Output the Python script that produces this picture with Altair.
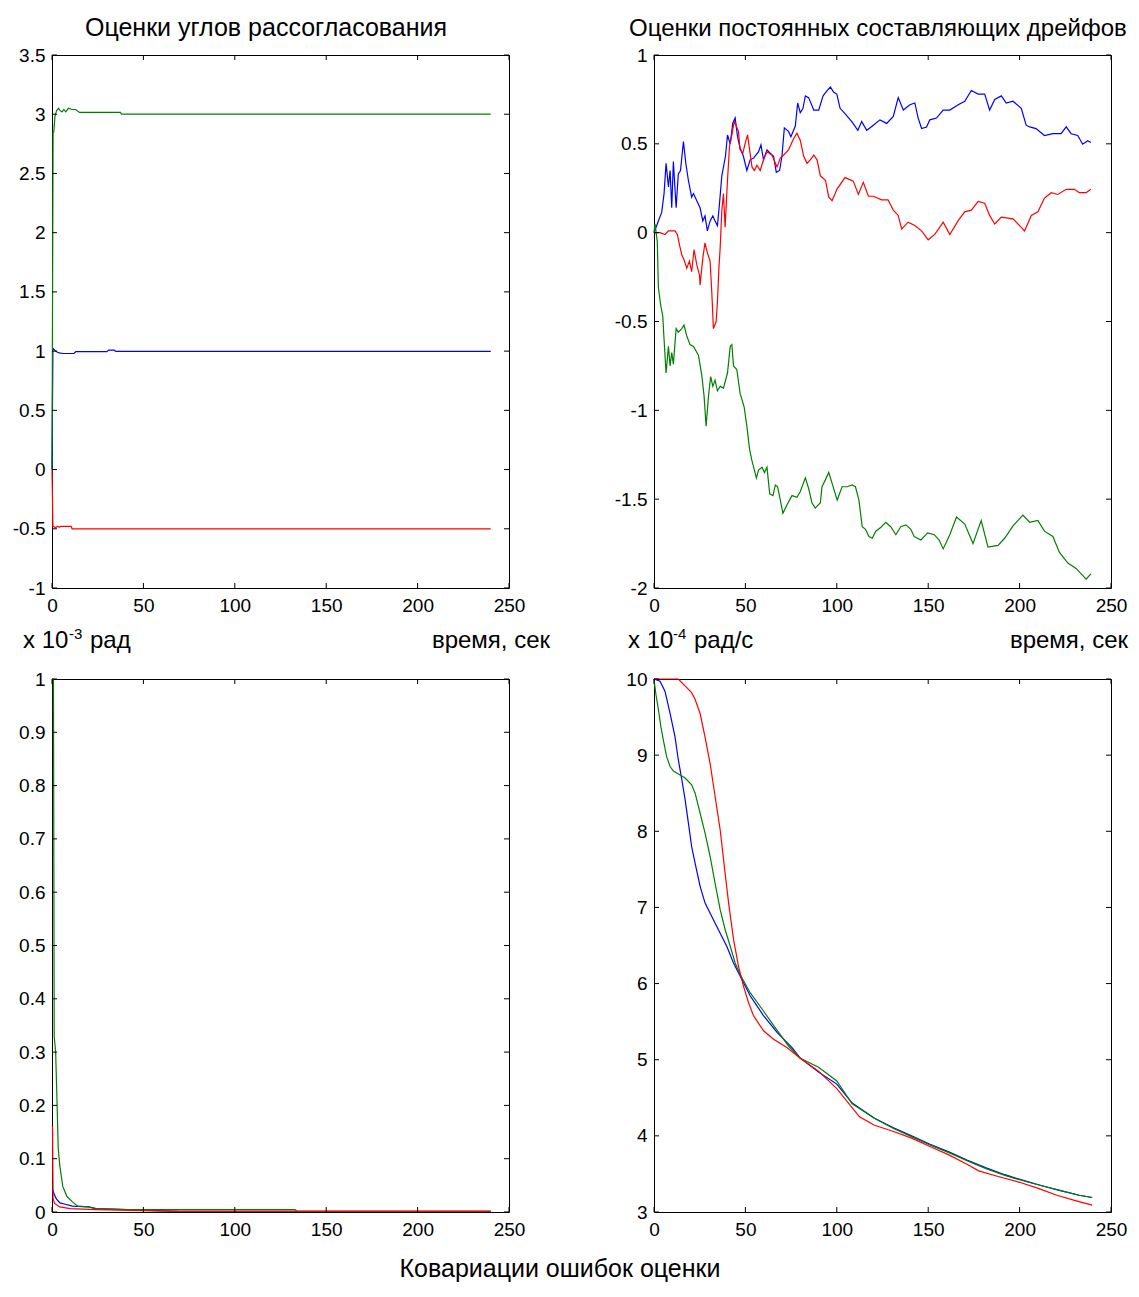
import altair as alt
import pandas as pd

# ---------------- data ----------------
X_TICKS = [0, 50, 100, 150, 200, 250]
TL_YTICKS = [-1, -0.5, 0, 0.5, 1, 1.5, 2, 2.5, 3, 3.5]
TR_YTICKS = [-2, -1.5, -1, -0.5, 0, 0.5, 1]
BL_YTICKS = [0, 0.1, 0.2, 0.3, 0.4, 0.5, 0.6, 0.7, 0.8, 0.9, 1]
BR_YTICKS = [3, 4, 5, 6, 7, 8, 9, 10]

# top-left: misalignment angle estimates
TL_BLUE = [(0, 0), (0.5, 1.025), (2, 1.0), (3, 0.99), (4, 0.985), (6, 0.98), (12, 0.98),
           (13, 0.995), (30, 0.995), (31, 1.008), (34, 1.008), (35, 0.997), (240, 0.997)]
TL_RED = [(0, 0), (0.5, -0.48), (2, -0.49), (3, -0.48), (4, -0.485), (5, -0.48), (10.5, -0.48),
          (11, -0.5), (240, -0.5)]
TL_GREEN = [(0, 0), (0.6, 2.85), (1.0, 2.85), (1.6, 2.98), (2.5, 3.03), (3.5, 3.05), (4.5, 3.03),
            (5.5, 3.02), (6.5, 3.04), (7.5, 3.02), (9, 3.05), (11, 3.04), (13, 3.04), (15, 3.015),
            (37.5, 3.015), (38, 3.0), (240, 3.0)]

# top-right: drift constant estimates
TR_BLUE = [(0, 0), (2.4, 0.066), (4.2, 0.114), (5.5, 0.22), (6.6, 0.39), (7.9, 0.257), (8.8, 0.35),
           (9.7, 0.14), (10.6, 0.40), (12.1, 0.14), (13.3, 0.33), (14.5, 0.35), (16.1, 0.513),
           (17.4, 0.39), (18.8, 0.295), (20.6, 0.2), (21.6, 0.22), (23.4, 0.18), (25.2, 0.14),
           (26.7, 0.066), (27.9, 0.095), (29.2, 0.01), (30.7, 0.066), (32.2, 0.095), (33.4, 0.066),
           (34.7, 0.04), (35.8, 0.16), (37.1, 0.32), (39.1, 0.43), (40.2, 0.55), (41.7, 0.5),
           (43.1, 0.618), (44.4, 0.646), (45.7, 0.54), (47.1, 0.475), (48.9, 0.43), (50.8, 0.35),
           (52.6, 0.41), (54.5, 0.42), (57.2, 0.456), (58.5, 0.494), (59.9, 0.41), (61.8, 0.466),
           (63.6, 0.447), (65.4, 0.43), (66.9, 0.34), (68.7, 0.35), (70, 0.43), (71.3, 0.59),
           (73.6, 0.57), (74.9, 0.54), (77.3, 0.6), (78.6, 0.73), (80, 0.675), (81.5, 0.70),
           (82.8, 0.77), (84.6, 0.76), (87.4, 0.69), (90.1, 0.69), (92.5, 0.77), (94.7, 0.80),
           (96.5, 0.82), (98.3, 0.79), (100, 0.78), (101.8, 0.70), (104.5, 0.67), (108.2, 0.625),
           (111.5, 0.576), (113.6, 0.625), (116.4, 0.576), (120, 0.605), (123.6, 0.635),
           (127.3, 0.615), (130.9, 0.654), (133.6, 0.76), (136.4, 0.69), (140, 0.72),
           (142.7, 0.73), (144.5, 0.645), (146.4, 0.586), (149.1, 0.595), (150.9, 0.635),
           (154.5, 0.645), (158.2, 0.69), (161.8, 0.69), (166.4, 0.72), (170, 0.74),
           (173.6, 0.80), (177.3, 0.78), (180.9, 0.78), (183.6, 0.69), (186.4, 0.75), (190, 0.77),
           (192.7, 0.73), (196.4, 0.74), (200.9, 0.70), (203.6, 0.605), (205.5, 0.595),
           (209, 0.586), (213.6, 0.547), (218.2, 0.557), (222.7, 0.557), (225.5, 0.596),
           (228.2, 0.557), (231.8, 0.547), (234.5, 0.498), (237.3, 0.518), (239, 0.508)]
TR_RED = [(0, 0), (3.3, 0), (6, -0.01), (7.9, 0.01), (11.5, 0.01), (12.8, -0.01), (13.9, -0.067),
          (15.2, -0.124), (16.4, -0.152), (17.9, -0.2), (19.4, -0.16), (20.6, -0.22), (21.9, -0.096),
          (23.4, -0.18), (24.9, -0.24), (25.2, -0.295), (26.7, -0.143), (27.9, -0.057),
          (29.2, -0.114), (30.7, -0.16), (31.6, -0.333), (32.5, -0.54), (34, -0.5), (34.7, -0.39),
          (35.5, -0.2), (36.2, -0.085), (37.1, 0.124), (38, 0.22), (38.9, 0.03), (40.2, 0.295),
          (41.3, 0.485), (42.6, 0.55), (43.9, 0.627), (45, 0.6), (46.2, 0.57), (47.1, 0.466),
          (48.6, 0.447), (49.9, 0.504), (51.2, 0.55), (52.3, 0.466), (53.6, 0.37), (54.9, 0.35),
          (56.3, 0.38), (58.1, 0.35), (59.9, 0.41), (61.8, 0.456), (64.5, 0.437), (67.3, 0.37),
          (69.1, 0.42), (70.9, 0.437), (73.6, 0.466), (76.4, 0.53), (78.2, 0.56), (80, 0.52),
          (81.9, 0.43), (83.7, 0.39), (85.5, 0.41), (87.4, 0.437), (89.2, 0.41), (91, 0.32),
          (93.8, 0.295), (95.6, 0.2), (97.4, 0.18), (100.2, 0.247), (104.5, 0.31), (109, 0.29),
          (111.8, 0.215), (114.5, 0.283), (117.3, 0.205), (120, 0.205), (124.5, 0.185),
          (128, 0.185), (130.9, 0.127), (133.6, 0.097), (135.5, 0.02), (139, 0.059),
          (142.7, 0.04), (146.4, 0.01), (150, -0.04), (153.6, -0.01), (158.2, 0.059),
          (161.8, -0.01), (166.4, 0.068), (170, 0.117), (173.6, 0.127), (177.3, 0.176),
          (180.9, 0.166), (183.6, 0.097), (186.4, 0.049), (190, 0.088), (196.4, 0.078),
          (200, 0.04), (202.7, 0.01), (206.4, 0.097), (210, 0.117), (213.6, 0.195),
          (217.3, 0.225), (220.9, 0.215), (225.5, 0.244), (230, 0.244), (232.7, 0.225),
          (236.4, 0.225), (239, 0.244)]
TR_GREEN = [(0, 0), (0.55, 0.05), (1.8, -0.05), (2.4, -0.31), (3.7, -0.41), (4.8, -0.47),
            (5.5, -0.6), (6.6, -0.79), (7.9, -0.64), (8.8, -0.75), (9.7, -0.675), (10.6, -0.74),
            (12.1, -0.54), (13.3, -0.56), (15.2, -0.54), (16.4, -0.52), (17.9, -0.58),
            (19.7, -0.63), (21.6, -0.64), (24.3, -0.69), (26.1, -0.80), (27.4, -0.92),
            (28.5, -1.09), (29.8, -0.92), (31, -0.81), (32.2, -0.865), (33.4, -0.83),
            (34.7, -0.89), (36.2, -0.865), (38, -0.875), (40.2, -0.79), (41.7, -0.64),
            (42.6, -0.63), (43.5, -0.75), (45.3, -0.77), (47.1, -0.905), (49.3, -0.98),
            (50.8, -1.09), (52.3, -1.22), (53.5, -1.28), (54.5, -1.32), (56, -1.38),
            (57.2, -1.336), (59.1, -1.32), (60.4, -1.35), (61.8, -1.32), (63.3, -1.47),
            (65.1, -1.48), (66.4, -1.42), (67.6, -1.43), (69.1, -1.505), (70.5, -1.58),
            (72.7, -1.533), (75.5, -1.48), (78.2, -1.49), (80, -1.458), (82.8, -1.38),
            (84.6, -1.44), (86.4, -1.52), (88.2, -1.55), (91, -1.52), (91.9, -1.43),
            (93.8, -1.39), (95.6, -1.35), (97.4, -1.41), (100.2, -1.505), (102.9, -1.43),
            (105.7, -1.43), (108.4, -1.42), (110.2, -1.43), (112.1, -1.505), (113.9, -1.655),
            (115.7, -1.67), (117.6, -1.71), (119.4, -1.72), (121.3, -1.68), (124, -1.66),
            (126.8, -1.63), (129.5, -1.655), (132.3, -1.70), (135, -1.655), (137.8, -1.645),
            (140.5, -1.67), (142.3, -1.71), (146, -1.73), (149.7, -1.69), (153.3, -1.70),
            (156, -1.73), (158.2, -1.78), (161.8, -1.70), (165.5, -1.60), (170, -1.64),
            (174.5, -1.75), (179, -1.62), (182.7, -1.77), (188.2, -1.76), (191.8, -1.72),
            (196.4, -1.65), (201.8, -1.59), (205.5, -1.63), (210, -1.62), (213.6, -1.68),
            (218.2, -1.71), (221.8, -1.80), (226.4, -1.86), (230.9, -1.89), (236.4, -1.95),
            (239, -1.92)]

# bottom-left: covariance of angle errors
BL_BLUE = [(0, 0.04), (0.5, 0.041), (1.0, 0.035), (2.3, 0.025), (4.3, 0.017), (7.2, 0.0146),
           (11.2, 0.011), (20, 0.0096), (24, 0.0064), (70, 0.0013), (240, 0.0013)]
BL_GREEN = [(0, 1.0), (0.8, 1.0), (1.2, 0.33), (2.0, 0.3), (2.8, 0.2), (3.4, 0.12), (4.3, 0.086),
            (5.9, 0.048), (8.2, 0.029), (11.2, 0.019), (14.1, 0.011), (20, 0.0096), (24, 0.0064),
            (42, 0.0045), (133, 0.0045), (134, 0.0013), (240, 0.0013)]
BL_RED = [(0, 0.162), (0.3, 0.16), (0.6, 0.025), (1.4, 0.016), (4.3, 0.0096), (10, 0.0064),
          (24, 0.0045), (69, 0.0013), (240, 0.0013)]

# bottom-right: covariance of drift errors
BR_BLUE = [(0, 10), (3.3, 9.97), (6, 9.84), (8.8, 9.55), (11.5, 9.24), (13.3, 8.94), (15.2, 8.68),
           (17, 8.42), (18.8, 8.11), (20.6, 7.80), (22.5, 7.58), (25.2, 7.28), (27.9, 7.06),
           (31.6, 6.88), (36.2, 6.66), (39.8, 6.49), (43.5, 6.27), (47.1, 6.10), (52.6, 5.84),
           (59.9, 5.58), (67.3, 5.36), (75.5, 5.16), (80, 5.02), (90, 4.84), (100, 4.68),
           (108.4, 4.43), (120.6, 4.23), (130.7, 4.11), (140.9, 4.0), (151, 3.89), (161.3, 3.79),
           (171.5, 3.68), (181.7, 3.58), (191.9, 3.49), (202, 3.415), (212.2, 3.345),
           (222.4, 3.28), (232.6, 3.22), (239.7, 3.19)]
BR_GREEN = [(0, 10), (0.5, 9.9), (1.1, 9.79), (2.4, 9.6), (3.7, 9.38), (5.1, 9.2), (6.9, 8.98),
            (8.8, 8.85), (10.6, 8.79), (14.3, 8.74), (17, 8.70), (20.6, 8.61), (22.5, 8.50),
            (25.2, 8.24), (27.9, 7.98), (30.7, 7.67), (33.4, 7.32), (36.2, 6.97), (38.9, 6.71),
            (41.7, 6.49), (44.4, 6.27), (47.1, 6.12), (52.6, 5.88), (59.9, 5.64), (65.4, 5.45),
            (73.6, 5.18), (80, 5.02), (90, 4.9), (100, 4.72), (108.4, 4.42), (120.6, 4.23),
            (130.7, 4.10), (140.9, 3.99), (151, 3.88), (161.3, 3.78), (171.5, 3.67),
            (181.7, 3.57), (191.9, 3.48), (202, 3.41), (212.2, 3.345), (222.4, 3.28),
            (232.6, 3.22), (239.7, 3.19)]
BR_RED = [(0, 10), (13.3, 10), (20.6, 9.82), (22.5, 9.73), (25.2, 9.55), (27.9, 9.24), (30.7, 8.89),
          (33.4, 8.46), (36.2, 8.02), (38.9, 7.45), (40.8, 7.06), (43.5, 6.58), (46.2, 6.23),
          (48.9, 5.97), (51.7, 5.75), (54.4, 5.58), (59.9, 5.38), (65.4, 5.27), (72.7, 5.16),
          (80, 5.02), (90, 4.85), (100, 4.62), (112.4, 4.25), (120.6, 4.14), (130.7, 4.06),
          (140.9, 3.97), (151, 3.86), (161.3, 3.75), (171.5, 3.625), (177.6, 3.54),
          (187.8, 3.47), (200, 3.39), (210.2, 3.31), (220.4, 3.22), (230.5, 3.15), (239.7, 3.09)]

BLUE, GREEN, RED = "#0000ff", "#008000", "#ff0000"

# ---------------- layout ----------------
W, H = 457, 533
TICK = 5
FONT = "Liberation Sans"


def txt(s, x, y, size=24, align="left", baseline="alphabetic"):
    return alt.Chart(pd.DataFrame({"s": [s]})).mark_text(
        font=FONT, fontSize=size, align=align, baseline=baseline, color="black"
    ).encode(text="s:N", x=alt.value(x), y=alt.value(y))


def panel(series, ydom, yticks, texts):
    xs = alt.Scale(domain=[0, 250], nice=False, zero=False)
    ys = alt.Scale(domain=ydom, nice=False, zero=False)
    lab = dict(domain=False, ticks=False, grid=False, title=None, labelFont=FONT,
               labelFontSize=19, labelColor="black", labelFlush=False, labelOverlap=False,
               labelExpr="'' + datum.value")
    xax = alt.Axis(values=X_TICKS, labelPadding=8, **lab)
    yax = alt.Axis(values=yticks, labelPadding=7, **lab)
    layers = []
    for pts, col in series:
        df = pd.DataFrame(pts, columns=["t", "v"])
        layers.append(alt.Chart(df).mark_line(color=col, strokeWidth=1.2).encode(
            x=alt.X("t:Q", scale=xs, axis=xax), y=alt.Y("v:Q", scale=ys, axis=yax)))
    xt = pd.DataFrame({"t": X_TICKS})
    yt = pd.DataFrame({"v": yticks})
    for y0, y1 in [(H, H - TICK), (0, TICK)]:
        layers.append(alt.Chart(xt).mark_rule(color="black", strokeWidth=1).encode(
            x=alt.X("t:Q", scale=xs, axis=xax), y=alt.value(y0), y2=alt.value(y1)))
    for x0, x1 in [(0, TICK), (W, W - TICK)]:
        layers.append(alt.Chart(yt).mark_rule(color="black", strokeWidth=1).encode(
            y=alt.Y("v:Q", scale=ys, axis=yax), x=alt.value(x0), x2=alt.value(x1)))
    layers.extend(texts)
    return alt.layer(*layers).properties(width=W, height=H)


tl = panel([(TL_BLUE, BLUE), (TL_RED, RED), (TL_GREEN, GREEN)], [-1, 3.5], TL_YTICKS, [
    txt("Оценки углов рассогласования", 214, -19, size=25, align="center"),
    txt("время, сек", 498, 593, align="right"),
])
tr = panel([(TR_BLUE, BLUE), (TR_RED, RED), (TR_GREEN, GREEN)], [-2, 1], TR_YTICKS, [
    txt("Оценки постоянных составляющих дрейфов", -25, -19),
    txt("время, сек", 474, 593, align="right"),
])
bl = panel([(BL_BLUE, BLUE), (BL_GREEN, GREEN), (BL_RED, RED)], [0, 1], BL_YTICKS, [
    txt("x 10", -29, -31),
    txt("-3", 17, -40, size=15),
    txt("рад", 38, -31),
    txt("Ковариации ошибок оценки", 508, 598, size=25, align="center"),
])
br = panel([(BR_BLUE, BLUE), (BR_GREEN, GREEN), (BR_RED, RED)], [3, 10], BR_YTICKS, [
    txt("x 10", -26, -31),
    txt("-4", 19, -40, size=15),
    txt("рад/с", 40, -31),
])

chart = alt.concat(tl, tr, bl, br, columns=2, spacing={"row": 91, "column": 145},
                   bounds="flush").properties(
    padding={"left": 3, "top": 7, "right": 0, "bottom": 0}
).configure(background="white").configure_view(stroke="black", strokeWidth=1)

chart.save("out.html", embed_options={"renderer": "svg", "actions": False})
